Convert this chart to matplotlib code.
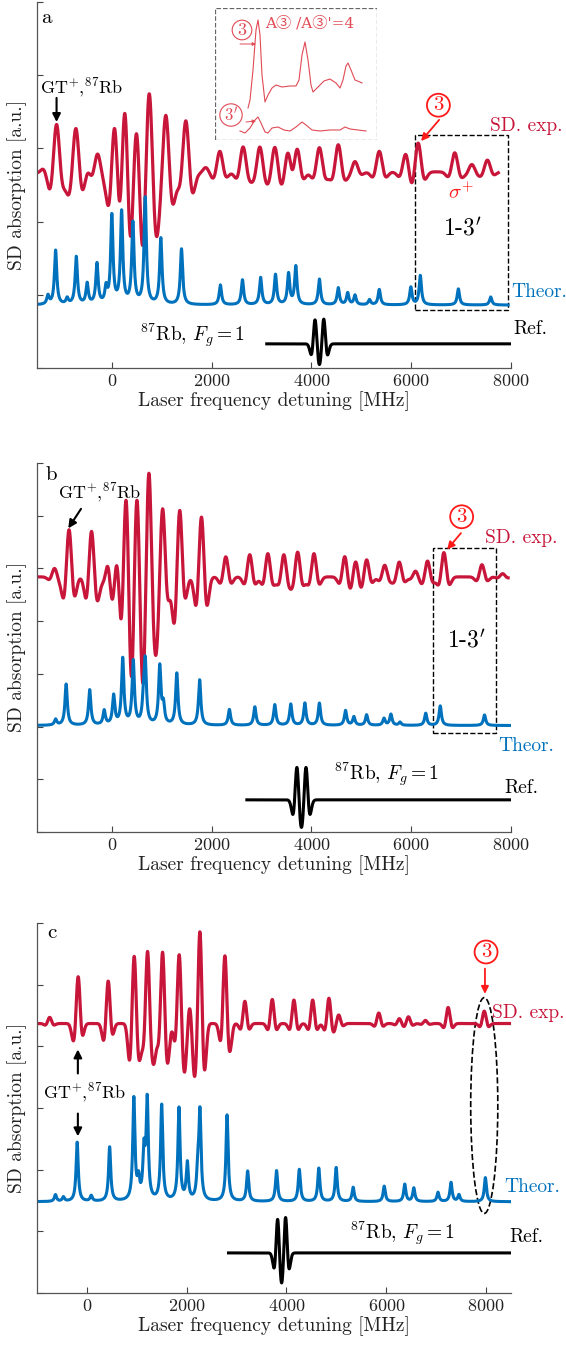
import numpy as np
import matplotlib
matplotlib.use("Agg")
from matplotlib import pyplot as plt
from matplotlib.patches import Rectangle, Ellipse

plt.rcParams['font.family'] = 'serif'
plt.rcParams['font.serif'] = ['cmr10']
plt.rcParams['mathtext.fontset'] = 'cm'
plt.rcParams['axes.formatter.use_mathtext'] = True

RED = '#c8153a'
BRIGHT = '#ff1a1a'
BLUE = '#0072bd'

# ---- panel a ----
a_exp_pos = [-1367, -1108, -721, -487, -287, 60, 261, 494, 748, 1082, 1483, 1884, 2164,
             2631, 2966, 3267, 3535, 3709, 4160, 4538, 4873, 5360, 5891, 6138, 6873, 7215, 7527]
a_exp_amp = [0.05, 0.65, 0.60, 0.06, 0.25, 0.78, 1.07, 0.70, 1.12, 0.78, 0.70, 0.06, 0.28,
             0.34, 0.34, 0.34, 0.33, 0.37, 0.33, 0.37, 0.14, 0.28, 0.25, 0.40, 0.26, 0.10, 0.16]
a_dip_pos = [-1256, -876, -575, -54, 160, 361, 608, 895, 1229, 1629]
a_dip_amp = [0.06, 0.14, 0.09, 0.26, 0.22, 0.55, 0.58, 0.48, 0.23, 0.11]
a_th_pos = [-1280, -1127, -895, -713, -495, -298, -116, 0, 196, 422, 669, 982, 1396, 2175,
            2618, 2982, 3280, 3542, 3687, 4160, 4538, 4727, 4873, 5164, 5360, 5993, 6182, 6945, 7593]
a_th_amp = [0.12, 0.74, 0.08, 0.65, 0.28, 0.55, 0.21, 1.20, 1.25, 1.10, 1.45, 0.90, 0.76, 0.27,
            0.34, 0.37, 0.41, 0.42, 0.52, 0.35, 0.23, 0.16, 0.13, 0.07, 0.21, 0.24, 0.40, 0.22, 0.11]
a_ref_pos = [4073, 4247]
a_ref_amp = [0.33, 0.34]

# ---- panel b ----
b_exp_pos = [-1149, -858, -407, -73, 109, 284, 502, 742, 1018, 1360, 1796, 2284, 2764, 3127,
             3447, 3724, 4051, 4669, 4887, 5106, 5469, 5760, 6087, 6327, 6655, 7418, 7833]
b_exp_amp = [0.16, 0.90, 0.87, 0.28, 0.46, 1.62, 1.58, 2.00, 1.30, 1.28, 1.15, 0.38, 0.42, 0.44,
             0.42, 0.47, 0.44, 0.39, 0.30, 0.33, 0.22, 0.28, 0.11, 0.30, 0.46, 0.23, 0.06]
b_dip_pos = [-967, -735, -516, -276, 0, 190, 393, 618, 887, 1251, 1687, 1905]
b_dip_amp = [0.10, 0.08, 0.13, 0.18, 0.26, 0.32, 0.90, 0.90, 0.62, 0.46, 0.18, 0.18]
b_th_pos = [-1127, -916, -444, -153, 36, 218, 429, 633, 669, 960, 1033, 1302, 1760, 2356, 2866,
            3266, 3586, 3869, 4160, 4684, 4851, 5106, 5455, 5593, 5775, 6291, 6582, 7469]
b_th_amp = [0.11, 0.78, 0.67, 0.27, 0.55, 1.25, 1.20, 0.35, 1.15, 1.10, 0.35, 0.98, 0.86, 0.30, 0.35,
            0.39, 0.40, 0.42, 0.42, 0.28, 0.16, 0.20, 0.13, 0.21, 0.06, 0.23, 0.37, 0.20]
b_ref_pos = [3709, 3891]
b_ref_amp = [0.62, 0.62]

# ---- panel c ----
c_exp_pos = [-746, -175, 427, 948, 1216, 1517, 1850, 2064, 2265, 2766, 3166, 3715, 4149, 4525,
             4851, 5046, 5850, 6263, 6444, 6784, 7240, 7964]
c_exp_amp = [0.10, 0.76, 0.69, 1.10, 1.17, 1.16, 1.12, 0.30, 1.50, 1.10, 0.36, 0.39, 0.38, 0.38,
             0.41, 0.14, 0.17, 0.08, 0.11, 0.05, 0.26, 0.20]
c_dip_pos = [-287, 327, 848, 1062, 1349, 1629, 1964, 2144, 2365, 2880]
c_dip_amp = [0.10, 0.10, 0.32, 0.32, 0.48, 0.38, 0.48, 0.48, 0.38, 0.20]
c_th_pos = [-630, -471, -195, 87, 456, 941, 1035, 1144, 1209, 1499, 1846, 2013, 2223, 2266, 2809,
            3222, 3801, 4257, 4648, 4996, 5336, 5959, 6371, 6552, 7037, 7298, 7457, 7986]
c_th_amp = [0.11, 0.07, 0.96, 0.09, 0.88, 1.65, 0.30, 0.75, 1.60, 1.55, 1.50, 0.60, 0.45, 1.40, 1.40,
            0.49, 0.50, 0.52, 0.54, 0.55, 0.23, 0.25, 0.28, 0.22, 0.15, 0.31, 0.11, 0.39]
c_ref_pos = [3823, 3982]
c_ref_amp = [0.55, 0.58]

# inset (traced in pixel units of the picture)
ins_top_x = [248, 250, 253, 256, 258, 260, 262, 265, 268, 272, 276, 282, 290, 296, 299, 302, 305,
             308, 311, 313, 318, 324, 330, 336, 340, 343, 346, 348, 351, 355, 360, 362]
ins_top_y = [108, 100, 70, 30, 20, 35, 75, 102, 95, 88, 85, 87, 86, 86, 80, 55, 42,
             60, 85, 92, 87, 81, 79, 83, 88, 80, 66, 63, 70, 80, 82, 83]
ins_bot_x = [240, 245, 250, 255, 258, 261, 265, 268, 272, 278, 284, 290, 296, 302, 306, 312,
             320, 330, 340, 345, 350, 358, 366]
ins_bot_y = [131, 133, 128, 120, 117, 123, 132, 133, 128, 127, 130, 131, 127, 122, 125, 130,
             131, 130, 130, 127, 129, 130, 131]


def sd_shape(x, pos, amp, sig, k=0.7):
    # peak with small negative side lobes
    y = np.zeros_like(x)
    for p, a in zip(pos, amp):
        u = (x - p) / sig
        y += a * (1 - k * u**2) * np.exp(-u**2 / 2)
    return y


def dips(x, pos, amp, sig):
    y = np.zeros_like(x)
    for p, a in zip(pos, amp):
        y -= a * np.exp(-((x - p) / sig)**2 / 2)
    return y


def lorentz(x, pos, amp, hw):
    y = np.zeros_like(x)
    for p, a in zip(pos, amp):
        y += a / (1 + ((x - p) / hw)**2)
    return y


def setup(ax, xlim, nticks):
    ax.set_xlim(*xlim)
    ax.set_ylim(0, nticks)
    ax.set_yticks(range(nticks + 1))
    ax.set_yticklabels([])
    ax.set_xticks([0, 2000, 4000, 6000, 8000])
    ax.tick_params(direction='in', length=4, width=0.8, labelsize=13, colors='#444',
                   labelcolor='#222')
    for s in ['top', 'right']:
        ax.spines[s].set_visible(False)
    for s in ['left', 'bottom']:
        ax.spines[s].set_color('#555')
        ax.spines[s].set_linewidth(0.9)
    ax.set_xlabel('Laser frequency detuning [MHz]', fontsize=14, labelpad=2, color='#222')
    ax.set_ylabel('SD absorption [a.u.]', fontsize=14, labelpad=4, color='#222')


def circ3(ax, x, y, txt='3', fs=15, color=BRIGHT, lw=1.3):
    ax.text(x, y, txt, color=color, ha='center', va='center', fontsize=fs,
            bbox=dict(boxstyle='circle,pad=0.12', fc='none', ec=color, lw=lw))


def arrow(ax, x0, y0, x1, y1, color='k', lw=1.5, ms=12):
    ax.annotate('', xy=(x1, y1), xytext=(x0, y0),
                arrowprops=dict(arrowstyle='-|>', color=color, lw=lw, mutation_scale=ms,
                                shrinkA=0, shrinkB=0))


W, H = 566, 1346
fig = plt.figure(figsize=(W / 100, H / 100), dpi=100)


def px_axes(x0, y0, x1, y1):
    return fig.add_axes([x0 / W, 1 - y1 / H, (x1 - x0) / W, (y1 - y0) / H])


LW = 2.3
GT = r'GT$^{+}$,$^{87}$Rb'
RB = r'$^{87}$Rb, $F_g = 1$'
BOX = r"1-3$'$"

# ---------------- panel a ----------------
ax = px_axes(37, 2, 511, 368)
setup(ax, (-1500, 8000), 5)
x = np.linspace(-1500, 7745, 4000)
ax.plot(x, 2.68 + sd_shape(x, a_exp_pos, a_exp_amp, 76) + dips(x, a_dip_pos, a_dip_amp, 55),
        color=RED, lw=LW)
x = np.linspace(-1500, 7942, 4000)
ax.plot(x, 0.86 + lorentz(x, a_th_pos, a_th_amp, 28), color=BLUE, lw=2.2)
x = np.linspace(3105, 8000, 2000)
ax.plot(x, 0.33 + sd_shape(x, a_ref_pos, a_ref_amp, 45, k=1), color='k', lw=2.2)

ax.text(-1418, 4.78, 'a', fontsize=15, ha='left', va='center')
ax.text(-1440, 3.85, GT, fontsize=13, ha='left', va='center')
arrow(ax, -1108, 3.69, -1108, 3.36)
circ3(ax, 6545, 3.59)
arrow(ax, 6560, 3.39, 6197, 3.10, color=BRIGHT, lw=1.3, ms=11)
ax.text(7578, 3.31, 'SD. exp.', color=RED, fontsize=14, ha='left', va='center')
ax.text(6997, 2.40, r'$\sigma^{+}$', color=BRIGHT, fontsize=15, ha='center', va='center')
ax.add_patch(Rectangle((6073, 0.79), 7942 - 6073, 3.18 - 0.79, fill=False, ls='--',
                       ec='k', lw=1.0))
ax.text(7033, 1.90, BOX, fontsize=17, ha='center', va='center')
ax.text(8015, 1.04, 'Theor.', color=BLUE, fontsize=14, ha='left', va='center')
ax.text(560, 0.45, RB, fontsize=14, ha='left', va='center')
ax.text(8051, 0.53, 'Ref.', fontsize=14, ha='left', va='center')

# inset of panel a
ins = px_axes(215, 8, 377, 140)
ins.set_xlim(215, 377)
ins.set_ylim(140, 8)
ins.axis('off')
ins.add_patch(Rectangle((0, 0), 1, 1, transform=ins.transAxes, fill=False, ls='--',
                        ec='#666', lw=0.9))
IRED = '#e04a55'
ins.plot(ins_top_x, ins_top_y, color=IRED, lw=0.8)
ins.plot(ins_bot_x, ins_bot_y, color=IRED, lw=0.8)
circ3(ins, 242, 30, fs=13, color=IRED, lw=0.8)
circ3(ins, 231, 115, txt=r"3$'$", fs=12, color=IRED, lw=0.8)
arrow(ins, 240, 44, 256, 44, color=IRED, lw=0.7, ms=5)
arrow(ins, 246, 122, 256, 121, color=IRED, lw=0.7, ms=5)
ins.text(265, 23, "A③ /A③'=4", color=IRED, fontsize=11, ha='left', va='center',
         family=['DejaVu Serif', 'Noto Sans CJK JP'])

# ---------------- panel b ----------------
ax = px_axes(37, 463, 511, 832)
setup(ax, (-1500, 8000), 7)
x = np.linspace(-1500, 7942, 4000)
ax.plot(x, 4.84 + sd_shape(x, b_exp_pos, b_exp_amp, 64, k=0.8) + dips(x, b_dip_pos, b_dip_amp, 44),
        color=RED, lw=LW)
x = np.linspace(-1500, 8000, 4000)
ax.plot(x, 2.02 + lorentz(x, b_th_pos, b_th_amp, 28), color=BLUE, lw=2.2)
x = np.linspace(2706, 8000, 2000)
ax.plot(x, 0.61 + sd_shape(x, b_ref_pos, b_ref_amp, 47, k=1), color='k', lw=2.2)

ax.text(-1331, 6.78, 'b', fontsize=15, ha='left', va='center')
ax.text(-1076, 6.45, GT, fontsize=13, ha='left', va='center')
arrow(ax, -618, 6.13, -873, 5.76)
circ3(ax, 7011, 5.98)
arrow(ax, 6997, 5.67, 6720, 5.36, color=BRIGHT, lw=1.3, ms=11)
ax.text(7469, 5.58, 'SD. exp.', color=RED, fontsize=14, ha='left', va='center')
ax.add_patch(Rectangle((6437, 1.88), 7709 - 6437, 5.38 - 1.88, fill=False, ls='--',
                       ec='k', lw=1.0))
ax.text(7106, 3.63, BOX, fontsize=17, ha='center', va='center')
ax.text(7746, 1.64, 'Theor.', color=BLUE, fontsize=14, ha='left', va='center')
ax.text(4451, 1.10, RB, fontsize=14, ha='left', va='center')
ax.text(7869, 0.84, 'Ref.', fontsize=14, ha='left', va='center')

# ---------------- panel c ----------------
ax = px_axes(37, 923, 511, 1293)
setup(ax, (-1000, 8500), 6)
x = np.linspace(-1000, 8492, 4000)
ax.plot(x, 4.37 + sd_shape(x, c_exp_pos, c_exp_amp, 50) + dips(x, c_dip_pos, c_dip_amp, 37),
        color=RED, lw=LW)
ax.plot(x, 1.48 + lorentz(x, c_th_pos, c_th_amp, 26), color=BLUE, lw=2.2)
x = np.linspace(2838, 8500, 2000)
ax.plot(x, 0.65 + sd_shape(x, c_ref_pos, c_ref_amp, 42, k=1), color='k', lw=2.2)

ax.text(-796, 5.83, 'c', fontsize=15, ha='left', va='center')
circ3(ax, 8000, 5.53)
arrow(ax, 7978, 5.26, 7978, 4.85, color=BRIGHT, lw=1.3, ms=11)
ax.add_patch(Ellipse((7964, 3.04), 543, 3.50, fill=False, ls='--', ec='k', lw=1.2))
ax.text(8123, 4.54, 'SD. exp.', color=RED, fontsize=14, ha='left', va='center')
arrow(ax, -181, 3.56, -181, 3.95)
ax.text(-883, 3.26, GT, fontsize=13, ha='left', va='center')
arrow(ax, -181, 2.91, -181, 2.54)
ax.text(8362, 1.72, 'Theor.', color=BLUE, fontsize=14, ha='left', va='center')
ax.text(5271, 0.97, RB, fontsize=14, ha='left', va='center')
ax.text(8471, 0.90, 'Ref.', fontsize=14, ha='left', va='center')

fig.savefig('out.png', dpi=100)
